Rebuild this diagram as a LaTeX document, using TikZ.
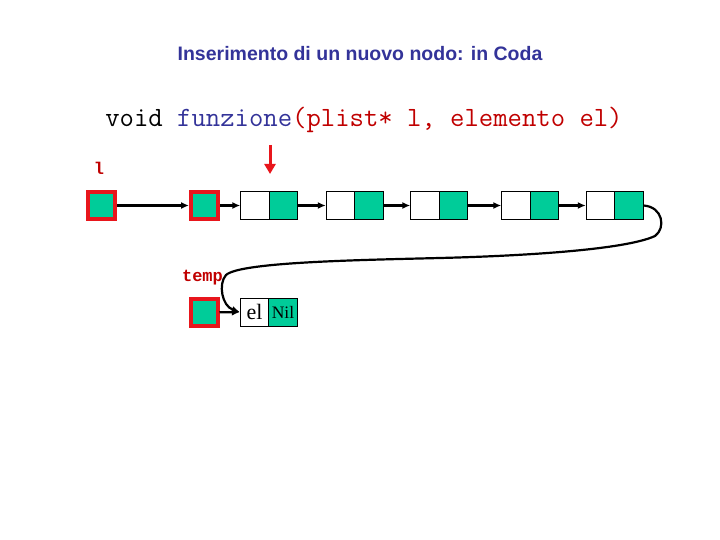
\documentclass[tikz,border=0pt]{standalone}
\usepackage{fontspec}
\setmainfont{Liberation Serif}
\setmonofont{Liberation Mono}
\newfontfamily\titlefont{Liberation Sans}
\newfontfamily\protofont{Latin Modern Mono}
\usetikzlibrary{arrows.meta}
\definecolor{cellteal}{HTML}{00CC99}
\definecolor{ptrred}{HTML}{E8161C}
\definecolor{codered}{HTML}{C00000}
\definecolor{codeblue}{HTML}{333399}
\begin{document}
\begin{tikzpicture}[x=1pt,y=-1pt,>={Latex[length=8pt,width=7pt]},
  every node/.style={inner sep=0pt},
  ptrbox/.style={draw=ptrred,line width=4pt,fill=cellteal,minimum size=27pt},
  infocell/.style={draw,line width=0.9pt,fill=white,minimum width=28.5pt,minimum height=28pt},
  nextcell/.style={infocell,fill=cellteal},
  link/.style={->,line width=2.2pt},
  marker/.style={-{Triangle[length=10pt,width=11pt]},line width=3pt,draw=ptrred}]
\useasboundingbox (0,0) rectangle (720,540);
\node[anchor=base,text=codeblue,font=\titlefont\bfseries\fontsize{19.5}{22}\selectfont] (title) at (360,61) {Inserimento di un nuovo nodo: in Coda};
\node[anchor=base,font=\protofont\fontsize{27.9}{30}\selectfont] (proto) at (364,126.5) {void \textcolor{codeblue}{funzione}\textcolor{codered}{(plist* l, elemento el)}};
\node[anchor=base,text=codered,font=\ttfamily\bfseries\fontsize{17}{19}\selectfont] (lname) at (99,175) {l};
\node[anchor=base,text=codered,font=\ttfamily\bfseries\fontsize{17}{19}\selectfont] (tname) at (202.5,281) {temp};
% puntatori
\node[ptrbox] (pl) at (101.5,205.5) {};
\node[ptrbox] (pfirst) at (204.5,205.5) {};
\node[ptrbox] (ptemp) at (204,312.5) {};
% lista
\node[infocell] (n1a) at (255,205.5) {};
\node[nextcell] (n1b) at (283.5,205.5) {};
\node[infocell] (n2a) at (340.5,205.5) {};
\node[nextcell] (n2b) at (369,205.5) {};
\node[infocell] (n3a) at (425,205.5) {};
\node[nextcell] (n3b) at (453.5,205.5) {};
\node[infocell] (n4a) at (516,205.5) {};
\node[nextcell] (n4b) at (544.5,205.5) {};
\node[infocell] (n5a) at (600.5,205.5) {};
\node[nextcell] (n5b) at (629,205.5) {};
% nuovo nodo
\node[infocell,font=\fontsize{22}{24}\selectfont] (ela) at (254.5,312) {el};
\node[nextcell,font=\fontsize{17.5}{19}\selectfont] (elb) at (283,312) {Nil};
\coordinate (marktop) at (270,145);
\coordinate (markend) at (270,174);
\draw[marker] (marktop) -- (markend);
\draw[link] (pl) -- (pfirst);
\draw[link] (pfirst) -- (n1a);
\draw[link] (n1b) -- (n2a);
\draw[link] (n2b) -- (n3a);
\draw[link] (n3b) -- (n4a);
\draw[link] (n4b) -- (n5a);
\draw[link] (ptemp) -- (ela);
\draw[link] (n5b.east) .. controls (663,207) and (666,228) .. (655,236)
  .. controls (625,250) and (520,256) .. (440,258)
  .. controls (360,260) and (240,262) .. (226,275)
  .. controls (218,284) and (222,306) .. (ela.west);
\end{tikzpicture}
\end{document}
